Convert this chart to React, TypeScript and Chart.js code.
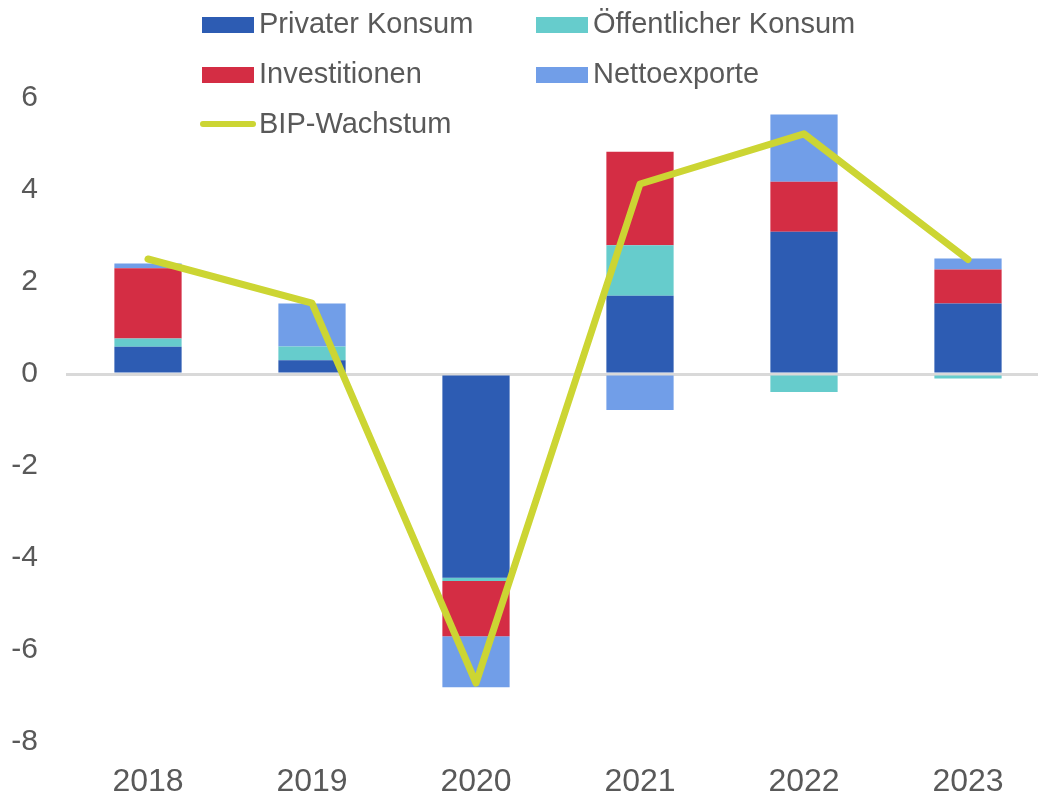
import React, { useEffect, useRef } from "react";
import { Chart, registerables } from "chart.js";

Chart.register(...registerables);

const years = ["2018", "2019", "2020", "2021", "2022", "2023"];
const privaterKonsum = [0.59, 0.3, -4.43, 1.7, 3.09, 1.53];
const oeffentlicherKonsum = [0.18, 0.3, -0.07, 1.1, -0.39, -0.1];
const investitionen = [1.53, 0, -1.2, 2.03, 1.09, 0.74];
const nettoexporte = [0.1, 0.93, -1.11, -0.78, 1.46, 0.24];
const bipWachstum = [2.5, 1.54, -6.72, 4.13, 5.22, 2.49];
const yTicks = [-8, -6, -4, -2, 0, 2, 4, 6];

const FONT = "'Liberation Sans', Arial, sans-serif";
const TEXT = "#595959";

const legendItems = [
  { label: "Privater Konsum", color: "#2d5cb3", type: "box", col: 0, row: 0 },
  { label: "Öffentlicher Konsum", color: "#66cccc", type: "box", col: 1, row: 0 },
  { label: "Investitionen", color: "#d42d44", type: "box", col: 0, row: 1 },
  { label: "Nettoexporte", color: "#719ee8", type: "box", col: 1, row: 1 },
  { label: "BIP-Wachstum", color: "#ccd533", type: "line", col: 0, row: 2 },
];

const legendPlugin = {
  id: "customLegend",
  afterDraw(chart: any) {
    const ctx = chart.ctx;
    ctx.save();
    ctx.font = `29px ${FONT}`;
    ctx.textBaseline = "alphabetic";
    ctx.textAlign = "left";
    const colX = [202, 536];
    for (const it of legendItems) {
      const x = colX[it.col];
      const baseline = 33 + it.row * 50;
      if (it.type === "box") {
        ctx.fillStyle = it.color;
        ctx.fillRect(x, baseline - 16, 52, 16);
      } else {
        ctx.strokeStyle = it.color;
        ctx.lineWidth = 6;
        ctx.lineCap = "round";
        ctx.beginPath();
        ctx.moveTo(x + 1, baseline - 9);
        ctx.lineTo(x + 51, baseline - 9);
        ctx.stroke();
      }
      ctx.fillStyle = TEXT;
      ctx.fillText(it.label, x + 57, baseline);
    }
    ctx.restore();
  },
};

export default function App() {
  const ref = useRef<HTMLCanvasElement | null>(null);

  useEffect(() => {
    if (!ref.current) return;
    const chart = new Chart(ref.current, {
      type: "bar",
      data: {
        labels: years,
        datasets: [
          {
            type: "line",
            label: "BIP-Wachstum",
            data: bipWachstum,
            borderColor: "#ccd533",
            borderWidth: 7,
            pointRadius: 0,
            tension: 0,
            stack: "line",
            order: 0,
            borderCapStyle: "round",
            borderJoinStyle: "round",
          } as any,
          { label: "Privater Konsum", data: privaterKonsum, backgroundColor: "#2d5cb3", stack: "s", order: 1 },
          { label: "Öffentlicher Konsum", data: oeffentlicherKonsum, backgroundColor: "#66cccc", stack: "s", order: 1 },
          { label: "Investitionen", data: investitionen, backgroundColor: "#d42d44", stack: "s", order: 1 },
          { label: "Nettoexporte", data: nettoexporte, backgroundColor: "#719ee8", stack: "s", order: 1 },
        ],
      },
      options: {
        responsive: false,
        animation: false,
        layout: { padding: { top: 98, right: 0, bottom: 0, left: 0 } },
        datasets: { bar: { barPercentage: 0.41, categoryPercentage: 1 } } as any,
        plugins: { legend: { display: false }, tooltip: { enabled: false } },
        scales: {
          x: {
            stacked: true,
            grid: { display: false, drawTicks: false },
            border: { display: false },
            ticks: { color: TEXT, font: { family: FONT, size: 32 }, padding: 21 },
            afterFit: (s: any) => {
              s.height = 54;
            },
          },
          y: {
            stacked: true,
            min: -8,
            max: 6,
            afterBuildTicks: (s: any) => {
              s.ticks = yTicks.map((v) => ({ value: v }));
            },
            grid: {
              drawTicks: false,
              color: (c: any) => (c.tick && c.tick.value === 0 ? "#d9d9d9" : "rgba(0,0,0,0)"),
              lineWidth: 3,
            },
            border: { display: false },
            ticks: { color: TEXT, font: { family: FONT, size: 30 }, padding: 28 },
            afterFit: (s: any) => {
              s.width = 66;
            },
          },
        },
      },
      plugins: [legendPlugin],
    });
    return () => chart.destroy();
  }, []);

  return (
    <div style={{ position: "absolute", left: 0, top: 0, width: 1038, height: 796, overflow: "hidden", background: "#fff" }}>
      <canvas ref={ref} width={1050} height={796} style={{ display: "block" }} />
    </div>
  );
}
